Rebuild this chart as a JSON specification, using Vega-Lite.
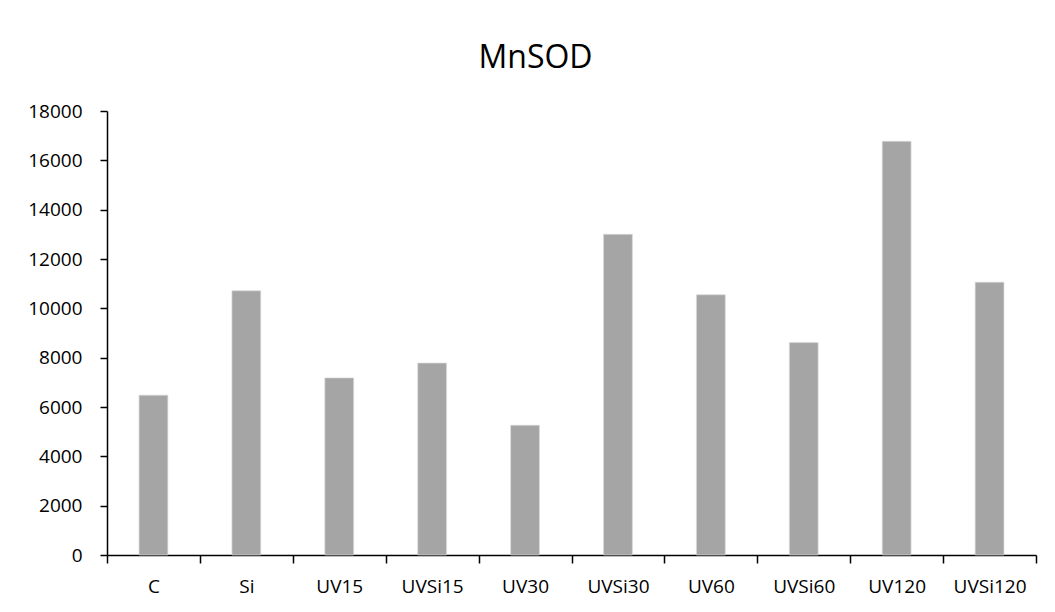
{
  "$schema": "https://vega.github.io/schema/vega-lite/v6.json",
  "autosize": "none",
  "width": 929,
  "height": 444,
  "padding": {"left": 107, "top": 111, "right": 19, "bottom": 57},
  "background": "white",
  "title": {
    "text": "MnSOD",
    "font": "Open Sans",
    "fontSize": 32,
    "fontWeight": "normal",
    "color": "#000000",
    "anchor": "middle",
    "baseline": "alphabetic",
    "dx": -36,
    "offset": 2
  },
  "data": {
    "values": [
      {"group": "C", "value": 6480},
      {"group": "Si", "value": 10710},
      {"group": "UV15", "value": 7180},
      {"group": "UVSi15", "value": 7780},
      {"group": "UV30", "value": 5260},
      {"group": "UVSi30", "value": 13000},
      {"group": "UV60", "value": 10550},
      {"group": "UVSi60", "value": 8610},
      {"group": "UV120", "value": 16770},
      {"group": "UVSi120", "value": 11060}
    ]
  },
  "mark": {"type": "bar", "color": "#a5a5a5", "stroke": "#d9d9d9", "strokeWidth": 0.7, "width": {"band": 0.31}},
  "encoding": {
    "x": {
      "field": "group",
      "type": "nominal",
      "sort": null,
      "scale": {"paddingInner": 0, "paddingOuter": 0},
      "axis": {
        "title": null,
        "labelAngle": 0,
        "labelFont": "Open Sans",
        "labelFontSize": 19,
        "labelColor": "#000000",
        "labelPadding": 14,
        "domainColor": "#000000",
        "domainWidth": 1.5,
        "tickColor": "#000000",
        "tickWidth": 1.5,
        "tickSize": 8,
        "tickBand": "extent",
        "grid": false
      }
    },
    "y": {
      "field": "value",
      "type": "quantitative",
      "scale": {"domain": [0, 18000], "nice": false},
      "axis": {
        "title": null,
        "values": [0, 2000, 4000, 6000, 8000, 10000, 12000, 14000, 16000, 18000],
        "format": "d",
        "labelFont": "Open Sans",
        "labelFontSize": 19,
        "labelColor": "#000000",
        "labelPadding": 18,
        "domainColor": "#000000",
        "domainWidth": 1.5,
        "tickColor": "#000000",
        "tickWidth": 1.5,
        "tickSize": 7,
        "grid": false
      }
    }
  },
  "config": {"view": {"stroke": null}}
}
